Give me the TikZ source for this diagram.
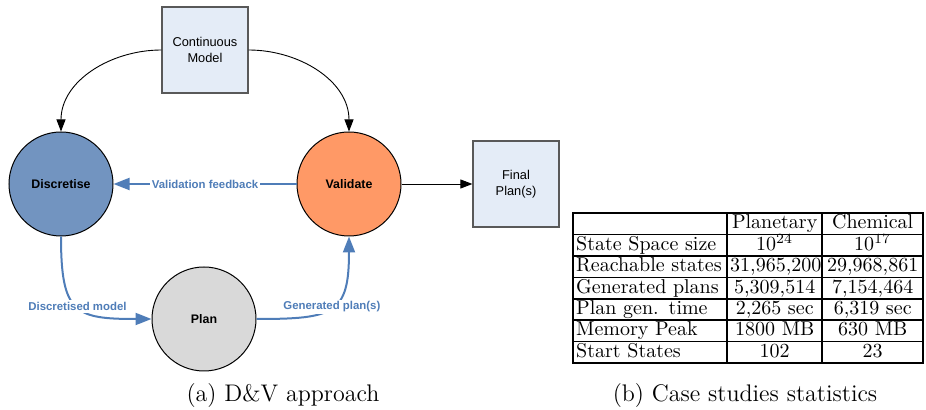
\documentclass[tikz,border=0pt]{standalone}
\usepackage{fontspec}
\newfontfamily\arialfont{Liberation Sans}
\usetikzlibrary{matrix,positioning,arrows.meta}
\definecolor{discblue}{RGB}{114,148,192}
\definecolor{valorange}{RGB}{255,153,102}
\definecolor{plangray}{RGB}{217,217,217}
\definecolor{boxblue}{RGB}{228,236,247}
\definecolor{flowblue}{RGB}{79,125,184}
\tikzset{
stage/.style={
  circle,
  draw=black,
  line width=0.5pt,
  minimum size=52pt,
  inner sep=0pt,
  font=\arialfont\bfseries\fontsize{6.2}{7.5}\selectfont
  },
docbox/.style={
  rectangle,
  draw=black!65,
  line width=0.6pt,
  fill=boxblue,
  minimum width=43pt,
  minimum height=43pt,
  align=center,
  font=\arialfont\fontsize{6.4}{8}\selectfont
  }
}
\tikzset{
flow/.style={draw=flowblue, line width=1pt, -{Triangle[length=8pt,width=6pt]}},
feed/.style={draw=black, line width=0.45pt, -{Triangle[length=6pt,width=4.5pt]}},
flowlabel/.style={fill=white, inner sep=1pt, text=flowblue,
  font=\arialfont\bfseries\fontsize{5.7}{6.8}\selectfont},
statmat/.style={
  matrix of nodes,
  nodes in empty cells,
  inner sep=0pt,
  nodes={draw=black, line width=0.8pt, text height=7.4pt, text depth=2.3pt,
    inner ysep=0.5pt, inner xsep=1.5pt, font=\fontsize{10}{12}\selectfont},
  column 1/.style={nodes={text width=74pt, align=left}},
  column 2/.style={nodes={text width=44.5pt, align=center}},
  column 3/.style={nodes={text width=47.5pt, align=center}},
  column sep=-0.8pt,
  row sep=-0.8pt
  }
}

\begin{document}
\begin{tikzpicture}[x=0.5pt,y=-0.5pt]
\useasboundingbox (0,0) rectangle (926,410);

\node[docbox] (contmodel) at (205,50) {Continuous\\Model};
\node[stage, fill=discblue] (discretise) at (61,184) {Discretise};
\node[stage, fill=valorange] (validate) at (349,184) {Validate};
\node[stage, fill=plangray] (plan) at (204,319) {Plan};
\node[docbox] (finalplan) at (516,184) {Final\\Plan(s)};

\draw[feed] (contmodel.west) to[out=180,in=90] (discretise.north);
\draw[feed] (contmodel.east) to[out=0,in=90] (validate.north);
\draw[feed] (validate.east) -- (finalplan.west);

\draw[flow] (validate.west) -- node[flowlabel]{Validation feedback} (discretise.east);
\draw[flow] (discretise.south) to[out=-90,in=180,looseness=1.6]
  node[flowlabel]{Discretised model} (plan.west);
\draw[flow] (plan.east) to[out=0,in=-90,looseness=1.6]
  node[flowlabel]{Generated plan(s)} (validate.south);

\matrix[statmat, anchor=north west] at (572,212) (stats)
{
   & Planetary & Chemical \\
  State Space size & $10^{24}$ & $10^{17}$ \\
  Reachable states & 31,965,200 & 29,968,861 \\
  Generated plans & 5,309,514 & 7,154,464 \\
  Plan gen. time & 2,265 sec & 6,319 sec \\
  Memory Peak & 1800 MB & 630 MB \\
  Start States & 102 & 23 \\
};

\node[font=\fontsize{12}{14}\selectfont, anchor=base] (capa) at (283,402) {(a) D\&V approach};
\node[font=\fontsize{12}{14}\selectfont, anchor=base] (capb) at (745,402) {(b) Case studies statistics};
\end{tikzpicture}
\end{document}
